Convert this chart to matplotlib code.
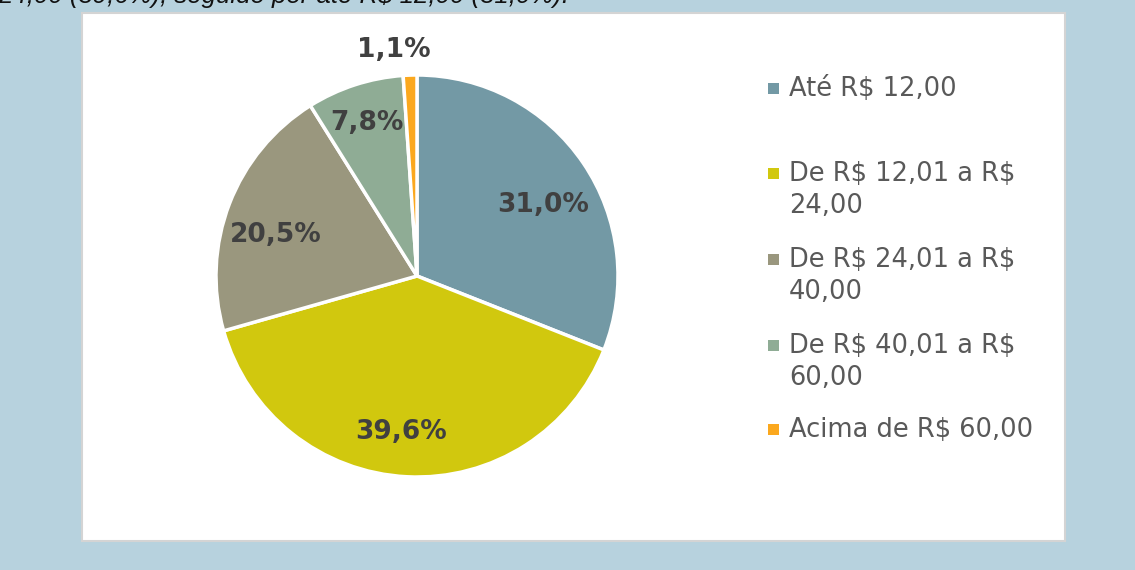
import matplotlib
matplotlib.use("Agg")
import matplotlib.pyplot as plt
from matplotlib.patches import Rectangle
import numpy as np

plt.rcParams["text.parse_math"] = False

categories = ["Até R$ 12,00", "De R$ 12,01 a R$\n24,00", "De R$ 24,01 a R$\n40,00",
              "De R$ 40,01 a R$\n60,00", "Acima de R$ 60,00"]
values = [31.0, 39.6, 20.5, 7.8, 1.1]
value_labels = ["31,0%", "39,6%", "20,5%", "7,8%", "1,1%"]
colors = ["#7399A5", "#D1C80E", "#9A977E", "#8FAC95", "#FBA81E"]
top_text = "24,00 (39,6%), seguido por até R$ 12,00 (31,0%)."

W, H = 1135, 570
fig = plt.figure(figsize=(W / 100, H / 100), dpi=100)
fig.patch.set_facecolor("#B7D2DE")

def fx(px):
    return px / W

def fy(py):
    return 1 - py / H

# white chart area
fig.patches.append(Rectangle((fx(82), fy(541)), fx(1065) - fx(82), fy(13) - fy(541),
                             transform=fig.transFigure, facecolor="white",
                             edgecolor="#D4D4D4", linewidth=1.5, zorder=-5))

# cut-off caption at top
fig.text(fx(-2), fy(3.5), top_text, fontsize=18.5, style="italic",
         family="Liberation Sans", color="#111111", va="baseline", ha="left")

# pie
cx, cy, R = 417, 276, 201
ax = fig.add_axes([fx(cx - R), fy(cy + R), 2 * R / W, 2 * R / H])
ax.patch.set_visible(False)
wedges, _ = ax.pie(values, colors=colors, startangle=90, counterclock=False,
                   radius=1, wedgeprops=dict(edgecolor="white", linewidth=2.5))
ax.set_xlim(-1, 1)
ax.set_ylim(-1, 1)
ax.set_aspect("auto")
ax.axis("off")

label_r = [0.72, 0.78, 0.73, 0.80, 1.13]
label_dang = [-5, -3, 5, 0, 4]
cum = np.cumsum([0] + values[:-1])
for i, (v, c0) in enumerate(zip(values, cum)):
    mid = 90 - (c0 + v / 2) * 3.6 + label_dang[i]
    r = label_r[i]
    ax.text(r * np.cos(np.radians(mid)), r * np.sin(np.radians(mid)), value_labels[i],
            ha="center", va="center", fontsize=19, fontweight="bold",
            color="#404040", family="DejaVu Sans", clip_on=False)

# legend
slot_y = [88, 173, 259, 345, 429]
for i, cat in enumerate(categories):
    y = slot_y[i]
    fig.patches.append(Rectangle((fx(768), fy(y + 5.5)), fx(11), 11 / H,
                                 transform=fig.transFigure, facecolor=colors[i],
                                 edgecolor="none"))
    fig.text(fx(789), fy(y - 12), cat, fontsize=18.5, color="#595959",
             family="DejaVu Sans", va="top", ha="left", linespacing=1.3)

fig.savefig("out.png", dpi=100, facecolor=fig.get_facecolor())
